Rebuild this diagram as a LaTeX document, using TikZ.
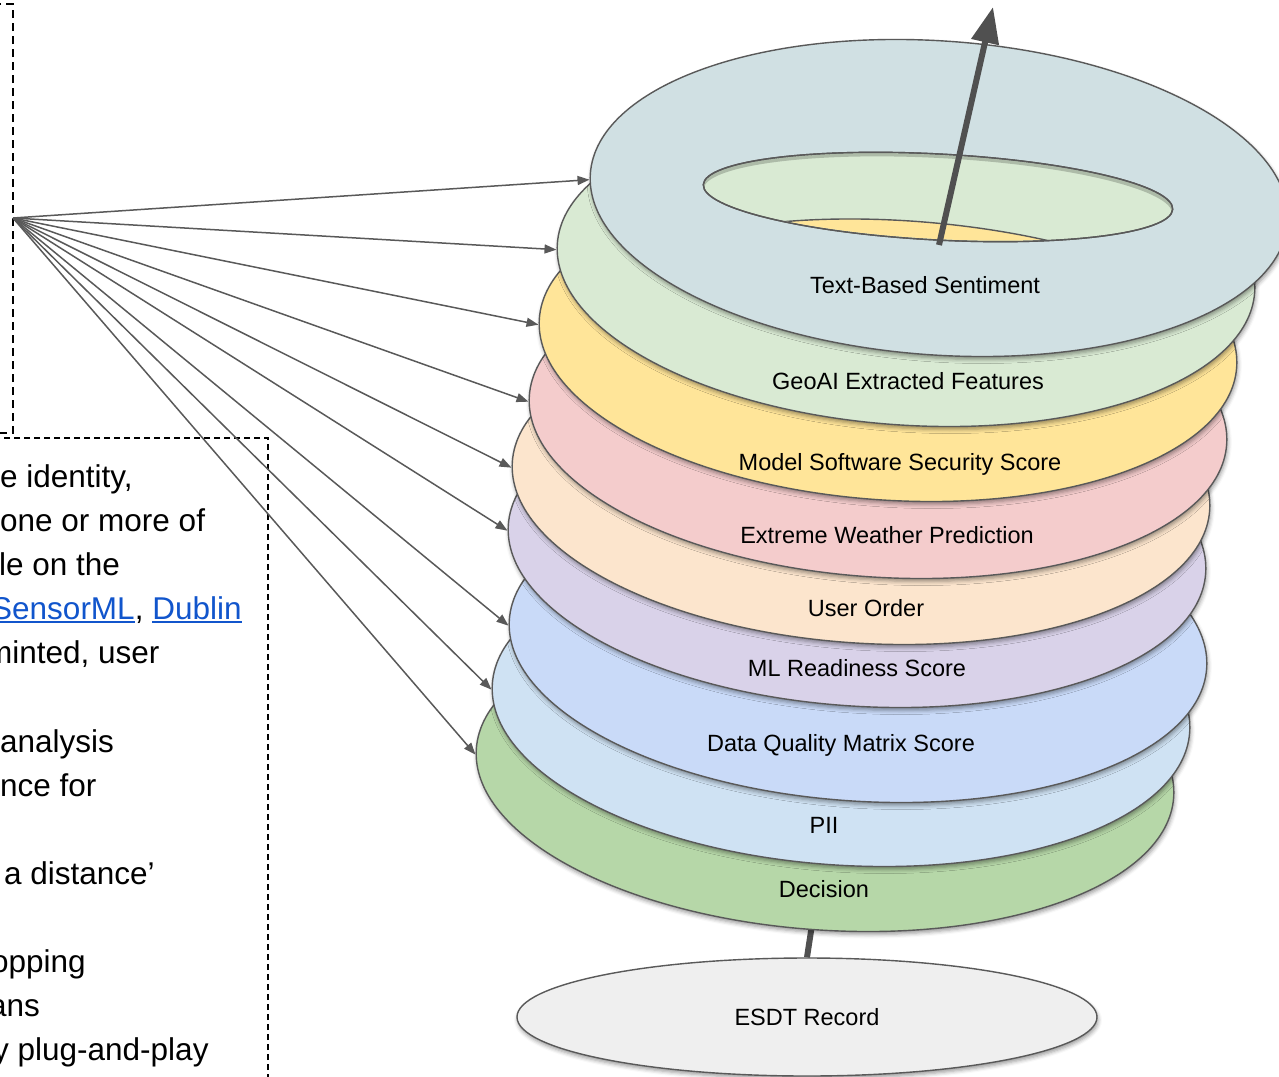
\documentclass[tikz,border=0pt]{standalone}
\usepackage{fontspec}
\setmainfont{Liberation Sans}
\usetikzlibrary{shapes.geometric,arrows.meta,shadows.blur}

\definecolor{edgegray}{HTML}{595959}
\definecolor{axisgray}{HTML}{505050}
\definecolor{linkblue}{HTML}{1155CC}
\definecolor{cTBS}{HTML}{D0E0E3}
\definecolor{cGEO}{HTML}{D9EAD3}
\definecolor{cMSS}{HTML}{FFE599}
\definecolor{cEWP}{HTML}{F4CCCC}
\definecolor{cUO}{HTML}{FCE5CD}
\definecolor{cMLR}{HTML}{D9D2E9}
\definecolor{cDQ}{HTML}{C9DAF8}
\definecolor{cPII}{HTML}{CFE2F3}
\definecolor{cDEC}{HTML}{B6D7A8}
\definecolor{cESDT}{HTML}{EFEFEF}

\newsavebox\lnkbox
\newcommand\ulink[1]{\textcolor{linkblue}{\sbox\lnkbox{#1}\rlap{\rule[-3.6pt]{\wd\lnkbox}{2pt}}\usebox\lnkbox}}

\tikzset{
  softshadow/.style={blur shadow={shadow xshift=1pt, shadow yshift=-3pt, shadow blur radius=4pt, shadow opacity=40}},
  disc/.style={ellipse, draw=edgegray, line width=1.4pt, inner sep=0pt, softshadow},
  layer/.style={disc, minimum width=699pt, minimum height=314pt, rotate=-4},
  lbl/.style={font=\fontsize{23.5}{28}\selectfont, inner sep=0pt, anchor=base},
  para/.style={font=\fontsize{31.5}{38}\selectfont, inner sep=0pt, anchor=base west},
  conn/.style={draw=edgegray, line width=1.5pt, -{Triangle[length=12pt,width=9pt]}},
  axisline/.style={draw=axisgray, line width=6pt},
  frameA/.style={draw=black, line width=1.6pt, dash pattern=on 8pt off 5pt},
  frameB/.style={draw=black, line width=1.6pt, dash pattern=on 6pt off 4pt},
}

\begin{document}
\begin{tikzpicture}[x=1pt,y=-1pt]
\useasboundingbox (0,0) rectangle (1279,1076);
\clip (0,0) rectangle (1279,1076);

% dashed frames on the left
\draw[frameA] (-300,4) rectangle (13,433);
\draw[frameB] (-300,438) rectangle (268,1200);

% text inside the lower frame
\node[para] (p1)  at (0,487)    {e identity,};
\node[para] (p2)  at (0,531)    {one or more of};
\node[para] (p3)  at (-1,575)   {le on the};
\node[para] (p4)  at (-9,619)   {\ulink{SensorML}, \ulink{Dublin}};
\node[para] (p5)  at (-14,663)  {minted, user};
\node[para] (p6)  at (0,752)    {analysis};
\node[para] (p7)  at (0,796)    {nce for};
\node[para] (p8)  at (4,884)    {a distance’};
\node[para] (p9)  at (-9,972)   {opping};
\node[para] (p10) at (-11,1016) {ans};
\node[para] (p11) at (-7,1060)  {y plug-and-play};

% base record and the axis stub rising from it
\node[disc, fill=cESDT, minimum width=580pt, minimum height=118pt] (esdt) at (807,1017) {};
\coordinate (stub) at (815,905);
\draw[axisline] (esdt.north) -- (stub);

% stacked layers, bottom first
\node[layer, fill=cDEC] (dec) at (825,773) {};
\node[layer, fill=cPII] (pii) at (841,708) {};
\node[layer, fill=cDQ]  (dq)  at (858,644) {};
\node[layer, fill=cMLR] (mlr) at (857,549) {};
\node[layer, fill=cUO]  (uo)  at (861,486) {};
\node[layer, fill=cEWP] (ewp) at (878,420) {};
\node[layer, fill=cMSS] (mss) at (888,343) {};
\node[layer, fill=cGEO] (geo) at (906,268) {};
\node[layer, fill=cTBS] (tbs) at (939,198) {};

% opening in the top layer
\node[ellipse, fill=cGEO, draw=edgegray, line width=1.4pt, inner sep=0pt,
      minimum width=470pt, minimum height=86pt, rotate=-3] (hole) at (938,197) {};
\begin{scope}
  \clip[rotate around={-3:(hole.center)}] (hole.center) ellipse [x radius=234, y radius=42];
  \draw[draw=black, opacity=0.2, line width=6pt, rotate around={-3:(hole.center)}]
    ([yshift=-3pt]hole.center) ellipse [x radius=237, y radius=45];
  \fill[cMSS] (780,222) .. controls (880,213) and (990,225) .. (1070,246) -- (1070,280) -- (780,280) -- cycle;
  \draw[edgegray, line width=1.4pt] (780,222) .. controls (880,213) and (990,225) .. (1070,246);
\end{scope}
\draw[edgegray, line width=1.4pt, rotate around={-3:(hole.center)}] (hole.center) ellipse [x radius=235, y radius=43];

% layer labels
\node[lbl] (lTBS) at (925,293.5) {Text-Based Sentiment};
\node[lbl] (lGEO) at (908,389.5) {GeoAI Extracted Features};
\node[lbl] (lMSS) at (900,470.5) {Model Software Security Score};
\node[lbl] (lEWP) at (887,543.5) {Extreme Weather Prediction};
\node[lbl] (lUO)  at (866,616.5) {User Order};
\node[lbl] (lMLR) at (857,676.5) {ML Readiness Score};
\node[lbl] (lDQ)  at (841,751)   {Data Quality Matrix Score};
\node[lbl] (lPII) at (824,833.5) {PII};
\node[lbl] (lDEC) at (824,897.5) {Decision};
\node[lbl] (lESDT) at (807,1025.5) {ESDT Record};

% fan of connectors from the frame
\coordinate (src) at (13,218);
\draw[conn] (src) -- (tbs.181);
\draw[conn] (src) -- (geo.181);
\draw[conn] (src) -- (mss.181);
\draw[conn] (src) -- (ewp.181);
\draw[conn] (src) -- (uo.181);
\draw[conn] (src) -- (mlr.181);
\draw[conn] (src) -- (dq.181);
\draw[conn] (src) -- (pii.181);
\draw[conn] (src) -- (dec.181);

% main axis through the stack
\coordinate (axisfoot) at (939,245);
\coordinate (axistop) at (993,7);
\draw[axisline, -{Triangle[length=36pt,width=27pt]}] (axisfoot) -- (axistop);
\end{tikzpicture}
\end{document}
